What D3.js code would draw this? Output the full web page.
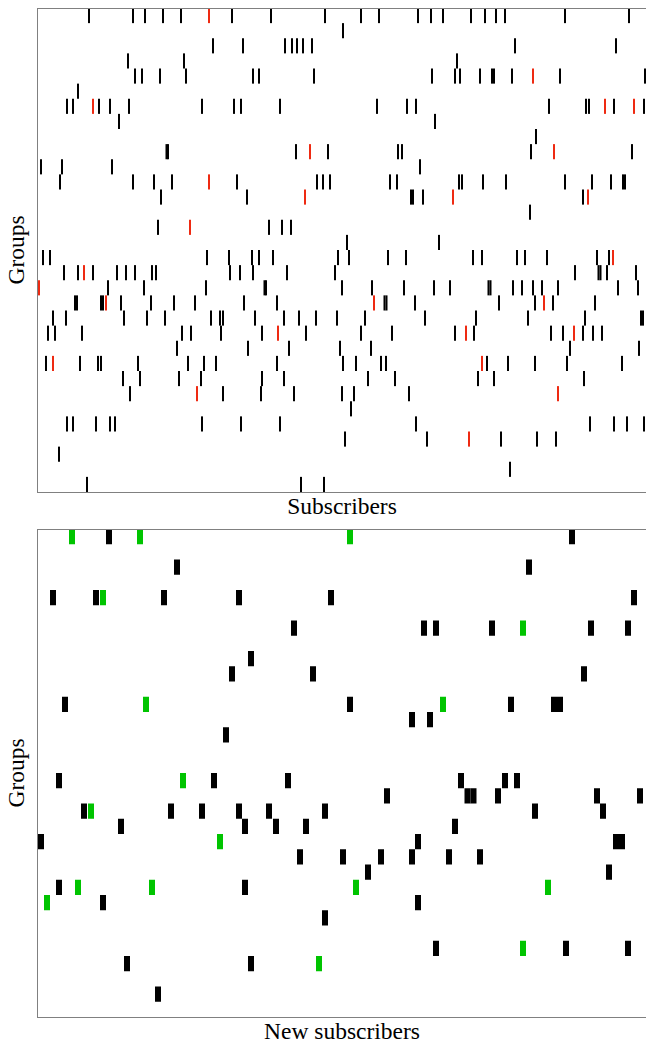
<!DOCTYPE html>
<html>
<head>
<meta charset="utf-8">
<script src="https://cdn.jsdelivr.net/npm/d3@7"></script>
<style>
  html, body { margin: 0; padding: 0; background: #fff; }
  svg { display: block; }
  text { font-family: "Palatino Linotype", Palatino, "Liberation Serif", "Times New Roman", serif; fill: #000; }
</style>
</head>
<body>
<svg id="chart" width="646" height="1043"></svg>
<script>
// ---------- DATA ----------
const groups = [0,1,2,3,4,5,6,7,8,9,10,11,12,13,14,15,16,17,18,19,20,21,22,23,24,25,26,27,28,29,30,31];
const timeDomain = [0, 608];
const panelTitles = ["Subscribers", "New subscribers"];
const yTitle = "Groups";

// Subscribers: event times per group (black), and highlighted events (red)
const subscriberEvents = [
  [51,95,107,125,143,194,233,287,323,341,380,393,405,433,447,458,467,527,591],
  [305],
  [175,205,247,254,259,265,274,477,578],
  [90,146,419],
  [97,104,122,148,215,221,276,394,417,422,442,454,456,474,522,607],
  [40],
  [29,35,61,72,91,164,196,203,242,339,369,378,511,548,551,576,606],
  [81,397],
  [498],
  [128.5,130,258,290,360,364,493,594],
  [3,24,74,382],
  [22,95,116,134,199,279,285,292,352,359,421,424,445,468,527,554,573,585,587],
  [123,209,373,375,385,545],
  [492],
  [120,231,244,253],
  [309,401],
  [5,12,169,191,214,221,235,300,311,350,368,435,444,479,487,509,559,571],
  [26,40,55,79,88,97,114,118,192,202,215,249,297,537,560.5,562.5,569,598],
  [70,106,168,226.5,228,304,334,366,396,412,450.5,452.5,475,484,495,504,520,580,600],
  [37,39,63,65,83,113,136,157,206,239,346.5,348.5,377,461,497,515,557],
  [15,28,86,109,127,173,182,185,217,246,261,278,299,327,387,438,490,547,603,605],
  [10,17,44,144,153,183,224,268,323,354,417,436,513,525,545,555,564],
  [139,210,251,302,333,532,601],
  [8,42,60,63,100,150,166,178,239,305,318,343,348,449,470,497,529,584],
  [85,102,141,163,224,246,330,357,440,456,546],
  [92,185,223,256,304,316,371],
  [313],
  [29,35,58,72,77,164,203,242,378,552,576,589,606],
  [307,389,463,499,518],
  [21],
  [472],
  [49,263,286]
];
const subscriberFlagged = [
  [171],[],[],[],[495],[],[55,567,596],[],[],[272,516],[],[171],[267,415,550],[],[152],[],
  [575],[46],[1],[68,336,506],[],[240,428,536],[],[15,444],[],[159,520],[],[],[431],[],[],[]
];

// New subscribers: event times per group (black), and highlighted events (green)
const newSubscriberEvents = [
  [71,534],
  [],
  [139,491],
  [],
  [15,58,126,201,293,596],
  [],
  [256,386,398,454,553,590],
  [],
  [213],
  [194,275,546],
  [],
  [27,312,473,516,522],
  [374,392],
  [188],
  [],
  [],
  [21,176,250,423,467,479],
  [349,429.5,435.5,460,559,602],
  [46,133,164,201,231,287,497,565],
  [83,207,238,268,417],
  [3,380,578,584],
  [262,305,343,374,411,442],
  [330,571],
  [21,207],
  [65,380],
  [287],
  [],
  [398,528,590],
  [89,213],
  [],
  [120],
  []
];
const newSubscriberFlagged = [
  [34,102,312],[],[],[],[65],[],[485],[],[],[],[],[108,405],[],[],[],[],
  [145],[],[53],[],[182],[],[],[40,114,318,510],[9],[],[],[485],[281],[],[],[]
];

// ---------- DRAW ----------
const svg = d3.select("#chart");
const frameColor = "#808080";

function panel(cfg) {
  const x = d3.scaleLinear().domain(timeDomain).range([38, 646]);
  const y = d3.scaleBand().domain(groups).range([cfg.top, cfg.bottom]).padding(0);
  const g = svg.append("g");

  const rows = [];
  groups.forEach(gi => {
    cfg.events[gi].forEach(v => rows.push({g: gi, v, hl: false}));
    cfg.flagged[gi].forEach(v => rows.push({g: gi, v, hl: true}));
  });

  g.append("defs").append("clipPath").attr("id", cfg.id + "clip")
    .append("rect").attr("x", 38).attr("y", cfg.top).attr("width", 646 - 38 + 2).attr("height", cfg.bottom - cfg.top);

  g.append("g").attr("clip-path", `url(#${cfg.id}clip)`)
    .selectAll("rect").data(rows).join("rect")
    .attr("x", d => x(d.v) - cfg.w / 2)
    .attr("y", d => y(d.g))
    .attr("width", cfg.w)
    .attr("height", y.bandwidth())
    .attr("fill", d => d.hl ? cfg.hlColor : "#000");

  // frame (right edge falls outside the canvas)
  g.append("rect")
    .attr("x", 37.5).attr("y", cfg.top + 0.5)
    .attr("width", 611).attr("height", cfg.bottom - cfg.top)
    .attr("fill", "none").attr("stroke", frameColor).attr("stroke-width", 1);

  g.append("text")
    .attr("x", 342).attr("y", cfg.bottom + 22)
    .attr("text-anchor", "middle")
    .attr("font-size", 23.5)
    .text(cfg.title);

  g.append("text")
    .attr("transform", `translate(24, ${(cfg.top + cfg.bottom) / 2}) rotate(-90)`)
    .attr("text-anchor", "middle")
    .attr("font-size", 23.5)
    .text(yTitle);
}

panel({id: "p1", top: 8, bottom: 492, events: subscriberEvents, flagged: subscriberFlagged,
       hlColor: "#ee2a12", w: 2, title: panelTitles[0]});
panel({id: "p2", top: 529, bottom: 1017, events: newSubscriberEvents, flagged: newSubscriberFlagged,
       hlColor: "#00c400", w: 6, title: panelTitles[1]});
</script>
</body>
</html>
